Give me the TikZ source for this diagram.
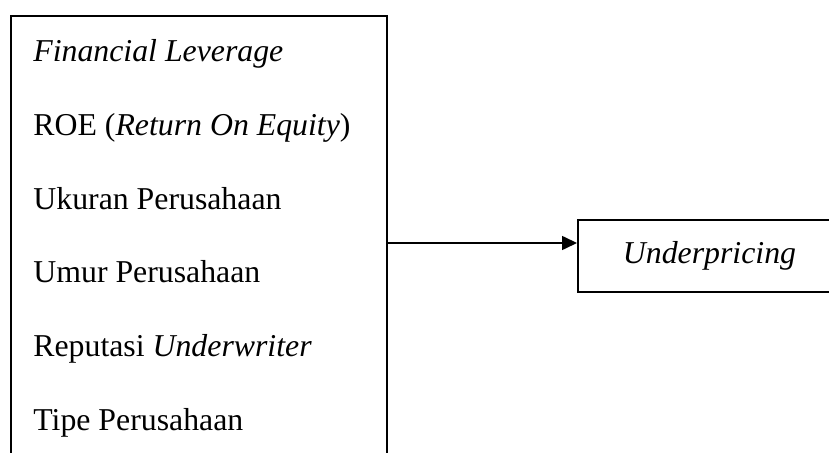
\documentclass[tikz,border=0pt]{standalone}
\usepackage{fontspec}
\setmainfont{Liberation Serif}
\usetikzlibrary{arrows.meta}
\begin{document}
\begin{tikzpicture}[x=0.5pt,y=-0.5pt,
  box/.style={draw, line width=1pt, rectangle, inner sep=0pt},
  item/.style={anchor=base west, inner sep=0pt, font=\fontsize{15.9}{19}\selectfont},
  conn/.style={line width=0.8pt, -{Triangle[length=7.5pt,width=7pt]}}]
\useasboundingbox (0,0) rectangle (829,453);
\node[box, anchor=north west, minimum width=188pt, minimum height=240pt] (L) at (10,15) {};
\node[box, anchor=north west, minimum width=131.5pt, minimum height=36pt,
  font=\fontsize{15.9}{19}\selectfont] (R) at (577,219) {\itshape Underpricing};
\node[item] (t1) at (33,62) {\itshape Financial Leverage};
\node[item] (t2) at (33,136) {ROE (\textit{Return On Equity})};
\node[item] (t3) at (33,210) {Ukuran Perusahaan};
\node[item] (t4) at (33,283) {Umur Perusahaan};
\node[item] (t5) at (33,357) {Reputasi \textit{Underwriter}};
\node[item] (t6) at (33,431) {Tipe Perusahaan};
\coordinate (a) at (0,243);
\draw[conn] (L.east |- a) -- (R.west |- a);
\end{tikzpicture}
\end{document}
